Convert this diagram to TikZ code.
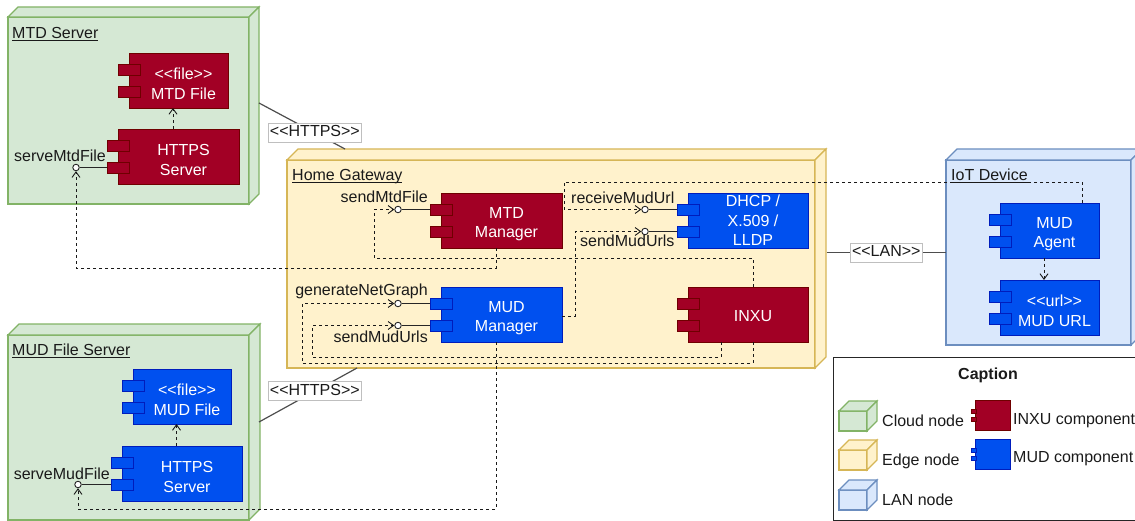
\documentclass[tikz,border=0pt]{standalone}
\usepackage{fontspec}
\setmainfont{Liberation Sans}[Ligatures=TeXOff]
\usetikzlibrary{arrows.meta}

\definecolor{cloudfill}{HTML}{D5E8D4}
\definecolor{cloudline}{HTML}{82B366}
\definecolor{edgefill}{HTML}{FFF2CC}
\definecolor{edgeline}{HTML}{D6B656}
\definecolor{lanfill}{HTML}{DAE8FC}
\definecolor{lanline}{HTML}{6C8EBF}
\definecolor{inxufill}{HTML}{A20025}
\definecolor{inxuline}{HTML}{6F0000}
\definecolor{mudfill}{HTML}{0050EF}
\definecolor{mudline}{HTML}{001DBC}
\definecolor{labtext}{HTML}{1A1A1A}
\definecolor{linkgray}{HTML}{4D4D4D}

% 3D deployment node: front face as a named node, plus top and right faces
\newcommand{\cubenode}[7]{%
  \node[#2, anchor=north west, minimum width=#5-#3, minimum height=#6-#4] (#1) at (#3,#4) {};
  \draw[#2] (#1.north west) -- ++(#7,-#7) -- ([shift={(#7,-#7)}]#1.north east) -- (#1.north east) -- cycle;
  \draw[#2] (#1.north east) -- ++(#7,-#7) -- ([shift={(#7,-#7)}]#1.south east) -- (#1.south east) -- cycle;
}
% UML component: body plus two ports on its left edge
\newcommand{\compnode}[6]{%
  \node[#2, anchor=north west, minimum width=#5-#3] (#1) at (#3,#4) {#6};
  \node[#2 port, anchor=north west] (#1-p1) at ([shift={(-11,11)}]#1.north west) {};
  \node[#2 port, anchor=north west] (#1-p2) at ([shift={(-11,33)}]#1.north west) {};
}
% text inside a component sits a little right of the body centre;
% the first line carries a taller strut to lower the block slightly
\newcommand{\lpad}{\hspace*{10pt}}
\newcommand{\fpad}{\hspace*{10pt}\rule{0pt}{18.5pt}}

\begin{document}
\begin{tikzpicture}[x=1pt, y=-1pt,
  font=\fontsize{16}{19.5}\selectfont,
  cloud/.style={draw=cloudline, fill=cloudfill, line width=1.2, inner sep=0, outer sep=0},
  edge/.style={draw=edgeline, fill=edgefill, line width=1.2, inner sep=0, outer sep=0},
  lan/.style={draw=lanline, fill=lanfill, line width=1.2, inner sep=0, outer sep=0},
  inxu/.style={draw=inxuline, fill=inxufill, text=white, align=center, minimum height=55, inner sep=0, outer sep=0, line width=0.9},
  mud/.style={draw=mudline, fill=mudfill, text=white, align=center, minimum height=55, inner sep=0, outer sep=0, line width=0.9},
  inxu port/.style={draw=inxuline, fill=inxufill, minimum width=22, minimum height=11, inner sep=0, outer sep=0, line width=0.9},
  mud port/.style={draw=mudline, fill=mudfill, minimum width=22, minimum height=11, inner sep=0, outer sep=0, line width=0.9},
  title/.style={anchor=base west, inner sep=0, text=labtext},
  plab/.style={anchor=base east, inner sep=0, text=labtext},
  legtext/.style={anchor=base west, inner sep=0, text=labtext},
  lolly/.style={circle, draw=black!85, fill=white, minimum size=6.5, inner sep=0, line width=0.9},
  socket/.style={draw=black!85, line width=1},
  dep/.style={draw=black!90, line width=0.9, dash pattern=on 3pt off 3pt, -{Straight Barb[length=5.5pt,width=8pt]}},
  link/.style={draw=linkgray, line width=1.2},
  lbl/.style={fill=white, draw=black!25, line width=0.8, text=labtext, inner xsep=1.5, inner ysep=2, text height=11.5, text depth=3.5}
]
\useasboundingbox (0,0) rectangle (1135,521);

% deployment nodes
\cubenode{mtdsrv}{cloud}{8}{17}{249}{204}{10}
\cubenode{mudsrv}{cloud}{8}{335}{249}{520}{11}
\cubenode{gw}{edge}{287}{160}{815}{368}{11}
\cubenode{iot}{lan}{946}{160}{1131}{345}{11}

\node[title] (t-mtdsrv) at (12,39) {\underline{\smash{MTD Server}}};
\node[title] (t-mudsrv) at (12,355.5) {\underline{\smash{MUD File Server}}};
\node[title] (t-gw) at (292,180.5) {\underline{\smash{Home Gateway}}};
\node[title] (t-iot) at (951,180.5) {\underline{\smash{IoT Device}}};

% communication paths
\draw[link] ([shift={(10,-7.5)}]mtdsrv.east) -- node[lbl, pos=0.65] (h1) {<<HTTPS>>} ([shift={(58,-11)}]gw.north west);
\draw[link] ([shift={(10,-5.5)}]mudsrv.east) -- node[lbl, pos=0.57] (h2) {<<HTTPS>>} ([shift={(70,0)}]gw.south west);
\draw[link] ([shift={(11.5,-11.5)}]gw.east) -- node[lbl] (lanlbl) {<<LAN>>} (iot.west);

% components
\compnode{mtdfile}{inxu}{129}{53}{228}{\fpad<<file>>\\\lpad MTD File}
\compnode{https1}{inxu}{118}{129}{239}{\fpad HTTPS\\\lpad Server}
\compnode{mtdmgr}{inxu}{441}{193}{562}{\fpad MTD\\\lpad Manager}
\compnode{dhcp}{mud}{688}{193}{808}{\lpad DHCP /\\\lpad X.509 /\\\lpad LLDP}
\compnode{mudmgr}{mud}{441}{287}{562}{\fpad MUD\\\lpad Manager}
\compnode{inxunode}{inxu}{688}{287}{808}{\lpad\rule{0pt}{15pt}INXU}
\compnode{agent}{mud}{1000}{203}{1099}{\fpad MUD\\\lpad Agent}
\compnode{url}{mud}{1000}{280}{1099}{\fpad<<url>>\\\lpad MUD URL}
\compnode{mudfile}{mud}{133}{369}{231}{\fpad<<file>>\\\lpad MUD File}
\compnode{https2}{mud}{122}{446}{242}{\fpad HTTPS\\\lpad Server}

% provided interfaces
\node[lolly] (lsmtdf) at (76,167.5) {};
\node[lolly] (lsmtd) at (398,209.5) {};
\node[lolly] (lrmu) at (645,209.5) {};
\node[lolly] (lsmu2) at (645,231.5) {};
\node[lolly] (lgng) at (398,303.5) {};
\node[lolly] (lsmu1) at (398,325.5) {};
\node[lolly] (lsmudf) at (78,484.5) {};
\draw[socket] (lsmtdf) -- (https1-p2);
\draw[socket] (lsmtd) -- (mtdmgr-p1);
\draw[socket] (lrmu) -- (dhcp-p1);
\draw[socket] (lsmu2) -- (dhcp-p2);
\draw[socket] (lgng) -- (mudmgr-p1);
\draw[socket] (lsmu1) -- (mudmgr-p2);
\draw[socket] (lsmudf) -- (https2-p2);

\node[plab] (n-smtdf) at (106,161.5) {serveMtdFile};
\node[plab] (n-smtd) at (428,203) {sendMtdFile};
\node[plab] (n-gng) at (428,296) {generateNetGraph};
\node[plab] (n-smu1) at (428,342.5) {sendMudUrls};
\node[plab, anchor=base west] (n-rmu) at (571,204) {receiveMudUrl};
\node[plab, anchor=base west] (n-smu2) at (580,247) {sendMudUrls};
\node[plab] (n-smudf) at (110,479) {serveMudFile};

% dependencies
\draw[dep] ([xshift=-5.5]https1.north) -- ([xshift=-5.5]mtdfile.south);
\draw[dep] ([xshift=-5.5]https2.north) -- ([xshift=-5.5]mudfile.south);
\draw[dep] ([xshift=-5.5]agent.south) -- ([xshift=-5.5]url.north);
\draw[dep] ([xshift=-5.5]mtdmgr.south) -- ++(0,20) -| (lsmtdf.south);
\draw[dep] ([xshift=5]inxunode.north) -- ++(0,-29) -| ([xshift=-20]lsmtd.west) -- (lsmtd.west);
\draw[dep] ([yshift=-1.5]mudmgr.east) -- ++(13,0) |- (lsmu2.west);
\draw[dep] ([xshift=32.5]agent.north) |- ([shift={(-77,-27.5)}]lrmu.west) |- (lrmu.west);
\draw[dep] ([xshift=5]inxunode.south) -- ++(0,21) -| ([xshift=-92]lgng.west) -- (lgng.west);
\draw[dep] ([xshift=-27]inxunode.south) -- ++(0,15) -| ([xshift=-82]lsmu1.west) -- (lsmu1.west);
\draw[dep] ([xshift=-5.5]mudmgr.south) -- ++(0,167) -| (lsmudf.south);

% caption
\node[draw=black!85, line width=1, anchor=north west, minimum width=310, minimum height=163, inner sep=0] (legend) at (833,357) {};
\node[anchor=base, inner sep=0, font=\fontsize{16}{19.5}\selectfont\bfseries, text=labtext] (legtitle) at (988,379) {Caption};
\cubenode{legcloud}{cloud}{839}{411}{867}{431}{10}
\cubenode{legedge}{edge}{839}{450}{867}{470}{10}
\cubenode{leglan}{lan}{839}{490}{867}{510}{10}
\node[legtext] (lt-cloud) at (882,426) {Cloud node};
\node[legtext] (lt-edge) at (882,465) {Edge node};
\node[legtext] (lt-lan) at (882,505) {LAN node};
\node[inxu, minimum width=35, minimum height=30, anchor=north west] (leginxu) at (975,400) {};
\node[inxu port, minimum width=5, minimum height=4, anchor=north west] (leginxu-p1) at (971.5,409.5) {};
\node[inxu port, minimum width=5, minimum height=4, anchor=north west] (leginxu-p2) at (971.5,417) {};
\node[mud, minimum width=35, minimum height=30, anchor=north west] (legmud) at (975,439) {};
\node[mud port, minimum width=5, minimum height=4, anchor=north west] (legmud-p1) at (971.5,448.5) {};
\node[mud port, minimum width=5, minimum height=4, anchor=north west] (legmud-p2) at (971.5,456) {};
\node[legtext] (lt-inxu) at (1013,424) {INXU component};
\node[legtext] (lt-mud) at (1013,462.5) {MUD component};
\end{tikzpicture}
\end{document}
